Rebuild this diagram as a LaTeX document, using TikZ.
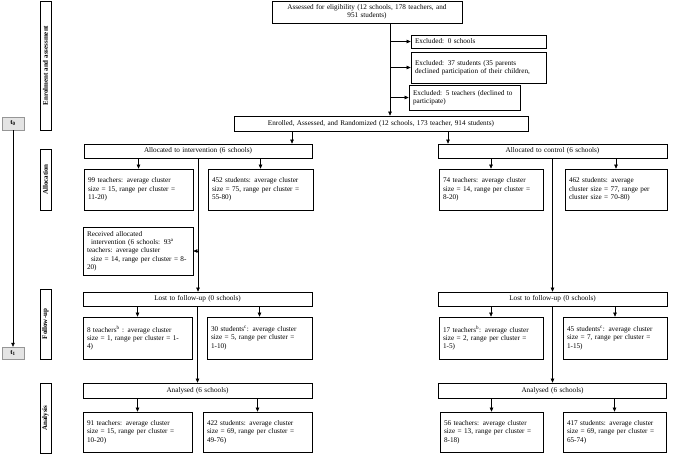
\documentclass[tikz,border=0pt]{standalone}
\usepackage{fontspec}
\setmainfont{Liberation Serif}
\usetikzlibrary{arrows.meta, positioning, calc}
\definecolor{timefill}{RGB}{228,228,228}
\definecolor{timedraw}{RGB}{150,150,150}
\tikzset{
  flowbox/.style={draw,line width=0.7pt,inner xsep=4pt,inner ysep=1pt,font=\fontsize{7.2}{8.3}\selectfont},
  headbox/.style={flowbox,align=center},
  infobox/.style={flowbox,align=left},
  phasebox/.style={draw,line width=0.8pt,rotate=90,inner sep=0pt,minimum height=11pt,font=\fontsize{7}{8}\selectfont\bfseries},
  timebox/.style={draw=timedraw,fill=timefill,inner sep=0pt,minimum width=22pt,font=\fontsize{7}{8}\selectfont\bfseries},
  flowarrow/.style={-{Triangle[length=4pt,width=3.5pt]},line width=0.6pt},
}

\begin{document}
\begin{tikzpicture}[x=1pt,y=-1pt]
  \useasboundingbox (0,0) rectangle (677,456);
  % phases and time line
  \node[phasebox,minimum width=129pt] (enrolP)  at (45.5,65.5)  {Enrolment and assessment};
  \node[phasebox,minimum width=61pt]  (allocP)  at (45.5,179.5) {Allocation};
  \node[phasebox,minimum width=70pt]  (followP) at (45.5,324)   {Follow-up};
  \node[phasebox,minimum width=70pt]  (anaP)    at (45.5,418)   {Analysis};
  \node[timebox,minimum height=13pt] (t0) at (13,123.5) {t\textsubscript{0}};
  \node[timebox,minimum height=12pt] (t1) at (13,353)   {t\textsubscript{1}};
  \draw[flowarrow] (t0.south) -- (t1.north);
  % enrolment
  \node[headbox,text width=182pt,minimum height=22pt] (assess) at (367,12)
    {Assessed for eligibility (12 schools, 178 teachers, and\\951 students)};
  \node[infobox,text width=127pt,minimum height=13pt] (ex1) at (478.5,41.5) {Excluded: 0 schools};
  \node[infobox,text width=127pt,minimum height=31pt] (ex2) at (478.5,67.5)
    {Excluded: 37 students (35 parents\\declined participation of their children,};
  \node[infobox,text width=103pt,minimum height=25pt] (ex3) at (464.5,97.5)
    {Excluded: 5 teachers (declined to\\participate)};
  \node[headbox,text width=286pt,minimum height=15pt] (enrol) at (381,123.5)
    {Enrolled, Assessed, and Randomized (12 schools, 173 teacher, 914 students)};
  \coordinate (sA) at (390,0); \coordinate (cI) at (292,0); \coordinate (cC) at (448,0);
  \draw[flowarrow] (assess.south -| sA) -- (enrol.north -| sA);
  \draw[flowarrow] (sA |- ex1.west) -- (ex1.west);
  \draw[flowarrow] (sA |- ex2.west) -- (ex2.west);
  \draw[flowarrow] (sA |- ex3.west) -- (ex3.west);
  % allocation
  \node[headbox,text width=220pt,minimum height=14pt] (allocI) at (198,151) {Allocated to intervention (6 schools)};
  \node[headbox,text width=221pt,minimum height=14pt] (allocC) at (552.5,151) {Allocated to control (6 schools)};
  \draw[flowarrow] (enrol.south -| cI) -- (allocI.north -| cI);
  \draw[flowarrow] (enrol.south -| cC) -- (allocC.north -| cC);
  \node[infobox,text width=101pt,minimum height=41pt] (tAI) at (138.5,189.5)
    {99 teachers: average cluster\\size = 15, range per cluster =\\11-20)};
  \node[infobox,text width=97pt,minimum height=41pt] (sAI) at (260.5,189.5)
    {452 students: average cluster\\size = 75, range per cluster =\\55-80)};
  \node[infobox,text width=96pt,minimum height=41pt] (tAC) at (491,189.5)
    {74 teachers: average cluster\\size = 14, range per cluster =\\8-20)};
  \node[infobox,text width=94pt,minimum height=41pt] (sAC) at (616,189.5)
    {462 students: average\\cluster size = 77, range per\\cluster size = 70-80)};
  \draw[flowarrow] (allocI.south -| tAI.north) -- (tAI.north);
  \draw[flowarrow] (allocI.south -| sAI.north) -- (sAI.north);
  \draw[flowarrow] (allocC.south -| tAC.north) -- (tAC.north);
  \draw[flowarrow] (allocC.south -| sAC.north) -- (sAC.north);
  \node[infobox,text width=102pt,minimum height=48pt] (recv) at (138,251)
    {Received allocated\\\hspace*{4pt}intervention (6 schools: 93\textsuperscript{a}\\teachers: average cluster\\\hspace*{4pt}size = 14, range per cluster = 8-\\20)};
  % follow-up
  \node[headbox,text width=221pt,minimum height=14pt] (lostI) at (197.5,299) {Lost to follow-up (0 schools)};
  \node[headbox,text width=221pt,minimum height=14pt] (lostC) at (552.5,299) {Lost to follow-up (0 schools)};
  \draw[flowarrow] (allocI.south) -- (allocI.south |- lostI.north);
  \draw[flowarrow] (allocI.south |- recv.east) -- (recv.east);
  \draw[flowarrow] (allocC.south) -- (allocC.south |- lostC.north);
  \node[infobox,text width=101pt,minimum height=42pt] (tLI) at (137.5,338)
    {8 teachers\textsuperscript{b} : average cluster\\size = 1, range per cluster = 1-\\4)};
  \node[infobox,text width=97pt,minimum height=42pt] (sLI) at (259.5,338)
    {30 students\textsuperscript{c}: average cluster\\size = 5, range per cluster =\\1-10)};
  \node[infobox,text width=96pt,minimum height=42pt] (tLC) at (491,338)
    {17 teachers\textsuperscript{b}: average cluster\\size = 2, range per cluster =\\1-5)};
  \node[infobox,text width=96pt,minimum height=42pt] (sLC) at (615,338)
    {45 students\textsuperscript{c}: average cluster\\size = 7, range per cluster =\\1-15)};
  \draw[flowarrow] (lostI.south -| tLI.north) -- (tLI.north);
  \draw[flowarrow] (lostI.south -| sLI.north) -- (sLI.north);
  \draw[flowarrow] (lostC.south -| tLC.north) -- (tLC.north);
  \draw[flowarrow] (lostC.south -| sLC.north) -- (sLC.north);
  % analysis
  \node[headbox,text width=221pt,minimum height=15pt] (anI) at (197.5,390.5) {Analysed (6 schools)};
  \node[headbox,text width=220pt,minimum height=15pt] (anC) at (552.5,390.5) {Analysed (6 schools)};
  \draw[flowarrow] (lostI.south) -- (lostI.south |- anI.north);
  \draw[flowarrow] (lostC.south) -- (lostC.south |- anC.north);
  \node[infobox,text width=101pt,minimum height=40pt] (tNI) at (137.5,432)
    {91 teachers: average cluster\\size = 15, range per cluster =\\10-20)};
  \node[infobox,text width=101pt,minimum height=40pt] (sNI) at (257.5,432)
    {422 students: average cluster\\size = 69, range per cluster =\\49-76)};
  \node[infobox,text width=95pt,minimum height=40pt] (tNC) at (491.5,432)
    {56 teachers: average cluster\\size = 13, range per cluster =\\8-18)};
  \node[infobox,text width=95pt,minimum height=40pt] (sNC) at (614.5,432)
    {417 students: average cluster\\size = 69, range per cluster =\\65-74)};
  \draw[flowarrow] (anI.south -| tNI.north) -- (tNI.north);
  \draw[flowarrow] (anI.south -| sNI.north) -- (sNI.north);
  \draw[flowarrow] (anC.south -| tNC.north) -- (tNC.north);
  \draw[flowarrow] (anC.south -| sNC.north) -- (sNC.north);
\end{tikzpicture}
\end{document}
